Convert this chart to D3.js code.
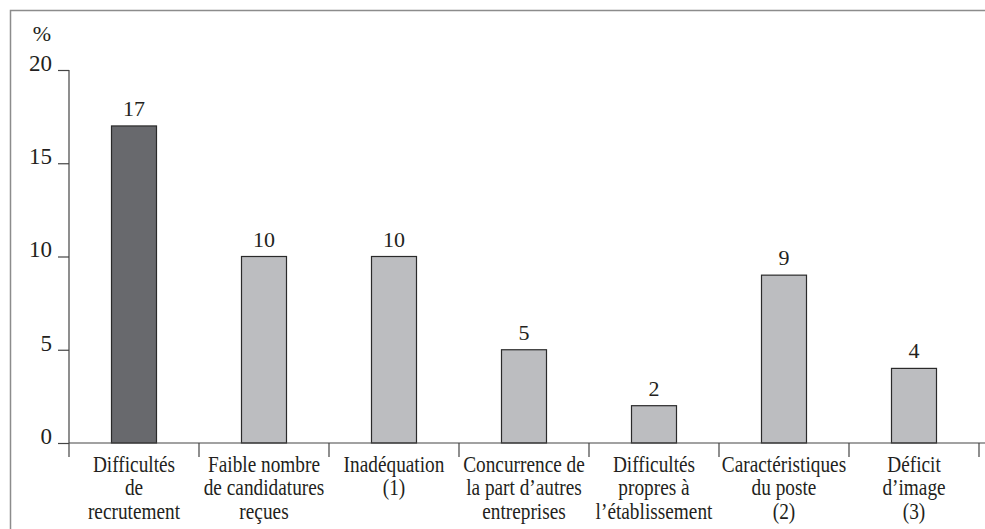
<!DOCTYPE html>
<html>
<head>
<meta charset="utf-8">
<script src="https://cdn.jsdelivr.net/npm/d3@7"></script>
<style>
  html, body { margin: 0; padding: 0; background: #fff; }
  svg { display: block; }
  text { font-family: "Liberation Serif", serif; fill: #231f20; }
</style>
</head>
<body>
<svg id="chart" width="985" height="529"></svg>
<script>
// Categories (each label split into its display lines)
const categories = [
  ["Difficultés", "de", "recrutement"],
  ["Faible nombre", "de candidatures", "reçues"],
  ["Inadéquation", "(1)"],
  ["Concurrence de", "la part d’autres", "entreprises"],
  ["Difficultés", "propres à", "l’établissement"],
  ["Caractéristiques", "du poste", "(2)"],
  ["Déficit", "d’image", "(3)"]
];
// Share of establishments (%)
const values = [17, 10, 10, 5, 2, 9, 4];
const highlighted = [true, false, false, false, false, false, false];
const yTicks = [0, 5, 10, 15, 20];
const yUnit = "%";

const svg = d3.select("#chart");

// outer frame (open on the right and bottom edges)
svg.append("rect")
  .attr("x", 10.5).attr("y", 10.5)
  .attr("width", 1000).attr("height", 1000)
  .attr("fill", "none").attr("stroke", "#8c8c8c").attr("stroke-width", 1.5);

const x = d3.scaleBand().domain(d3.range(categories.length)).range([69, 979]);
const y = d3.scaleLinear().domain([0, 20]).range([443, 70]);
const barW = 45;
const axisColor = "#444";

// y axis
const yAxis = svg.append("g").attr("transform", "translate(69,0)")
  .call(d3.axisLeft(y).tickValues(yTicks).tickSize(11).tickPadding(6));
yAxis.select(".domain").remove();
yAxis.append("line").attr("x1", 0).attr("x2", 0).attr("y1", y(20)).attr("y2", y(0))
  .attr("stroke", axisColor).attr("stroke-width", 1.2);
yAxis.selectAll(".tick line").attr("stroke", axisColor).attr("stroke-width", 1.2);
yAxis.selectAll(".tick text")
  .style("font-family", "Liberation Serif, serif").style("font-size", "23px")
  .attr("fill", "#231f20").attr("dy", "0.02em");

svg.append("text").attr("x", 42).attr("y", 41).attr("text-anchor", "middle")
  .style("font-size", "22px").text(yUnit);

// bars
svg.append("g").selectAll("rect").data(values).join("rect")
  .attr("x", (d, i) => x(i) + x.bandwidth() / 2 - barW / 2)
  .attr("y", d => y(d))
  .attr("width", barW)
  .attr("height", d => y(0) - y(d))
  .attr("fill", (d, i) => highlighted[i] ? "#68696d" : "#bcbdc0")
  .attr("stroke", "#2a2a2a").attr("stroke-width", 1.2);

// value labels
svg.append("g").selectAll("text").data(values).join("text")
  .attr("x", (d, i) => x(i) + x.bandwidth() / 2)
  .attr("y", d => y(d) - 10)
  .attr("text-anchor", "middle")
  .style("font-size", "22px")
  .text(d => d);

// x axis baseline and category boundary ticks
const bounds = d3.range(categories.length + 1).map(i => i < categories.length ? x(i) : x.range()[1]);
svg.append("line").attr("x1", 69).attr("x2", 985).attr("y1", y(0)).attr("y2", y(0))
  .attr("stroke", axisColor).attr("stroke-width", 1.2);
svg.append("g").selectAll("line").data(bounds).join("line")
  .attr("x1", d => d).attr("x2", d => d)
  .attr("y1", y(0)).attr("y2", y(0) + 14)
  .attr("stroke", axisColor).attr("stroke-width", 1.2);

// category labels, set in a narrow serif
const lbl = svg.append("g").selectAll("text").data(categories).join("text")
  .attr("text-anchor", "middle")
  .style("font-size", "23px")
  .attr("transform", (d, i) => `translate(${x(i) + x.bandwidth() / 2},472) scale(0.84,1)`);
lbl.selectAll("tspan").data(d => d).join("tspan")
  .attr("x", 0).attr("dy", (d, j) => j === 0 ? 0 : 23.5)
  .text(d => d);
</script>
</body>
</html>
